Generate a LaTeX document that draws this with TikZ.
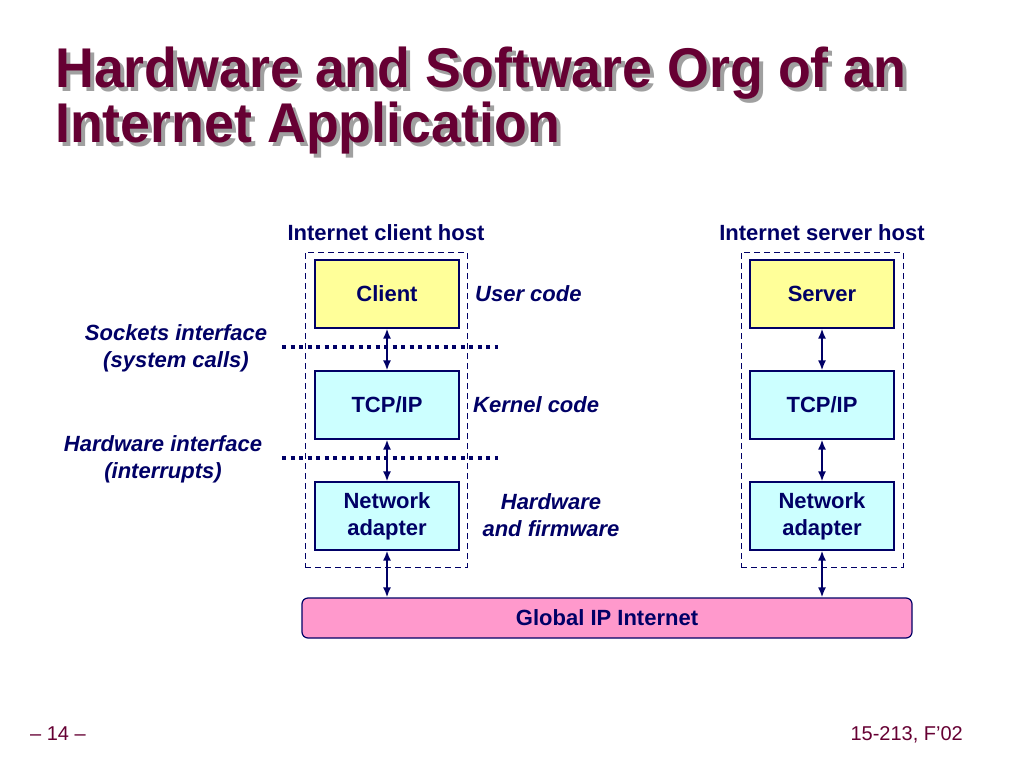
\documentclass[tikz,border=0pt]{standalone}
\usepackage{fontspec}
\setmainfont{Liberation Sans}
\newfontfamily\titlefont[FakeStretch=0.96]{Liberation Sans}
\usetikzlibrary{arrows.meta}
\definecolor{navy}{RGB}{0,0,102}
\definecolor{maroon}{RGB}{102,0,51}
\definecolor{shadowgray}{RGB}{160,160,160}
\definecolor{boxyellow}{RGB}{255,255,153}
\definecolor{boxcyan}{RGB}{204,255,255}
\definecolor{boxpink}{RGB}{255,153,204}
\newcommand{\shadowed}[1]{\makebox[0pt][l]{\hspace{4pt}\raisebox{-4pt}{\textcolor{shadowgray}{#1}}}\textcolor{maroon}{#1}}
\tikzset{
  layer/.style={draw=navy, line width=1.2pt, minimum width=144pt, minimum height=68pt,
    text=navy, font=\fontsize{22}{27}\selectfont\bfseries, align=center, inner sep=0pt},
  hostbox/.style={draw=navy, line width=1pt, dash pattern=on 6pt off 4pt,
    minimum width=162pt, minimum height=315pt, inner sep=0pt},
  hosttitle/.style={text=navy, font=\fontsize{22}{26}\selectfont\bfseries, inner sep=0pt},
  sidelabel/.style={text=navy, font=\fontsize{22}{27}\selectfont\bfseries\itshape, align=center, inner sep=0pt},
  link/.style={draw=navy, line width=1.8pt, {Latex[length=10pt,width=8pt]}-{Latex[length=10pt,width=8pt]}},
  dotline/.style={draw=navy, line width=4pt, dash pattern=on 4pt off 4.5pt},
  titletext/.style={font=\titlefont\fontsize{56}{60}\selectfont\bfseries, inner sep=0pt, anchor=base west},
  footer/.style={text=maroon, font=\fontsize{20}{24}\selectfont, inner sep=0pt, anchor=base west}
}
\begin{document}
\begin{tikzpicture}[x=1pt,y=-1pt]
\useasboundingbox[fill=white] (0,0) rectangle (1024,768);
% title
\node[titletext] (t1) at (55,87) {\shadowed{Hardware and Software Org of an}};
\node[titletext] (t2) at (55,142) {\shadowed{Internet Application}};
% hosts
\node[hostbox] (chost) at (386,409.5) {};
\node[hostbox] (shost) at (822,409.5) {};
\node[hosttitle] (chostlbl) at (386,233) {Internet client host};
\node[hosttitle] (shostlbl) at (822,233) {Internet server host};
% layers
\node[layer, fill=boxyellow] (client) at (387,294) {Client};
\node[layer, fill=boxcyan] (ctcp) at (387,405) {TCP/IP};
\node[layer, fill=boxcyan] (cna) at (387,516) {Network\\adapter};
\node[layer, fill=boxyellow] (server) at (822,294) {Server};
\node[layer, fill=boxcyan] (stcp) at (822,405) {TCP/IP};
\node[layer, fill=boxcyan] (sna) at (822,516) {Network\\adapter};
\node[layer, fill=boxpink, rounded corners=6pt, minimum width=610pt, minimum height=40pt] (inet) at (607,618) {Global IP Internet};
% links
\draw[link] (client.south) -- (ctcp.north);
\draw[link] (ctcp.south) -- (cna.north);
\draw[link] (cna.south) -- (cna.south |- inet.north);
\draw[link] (server.south) -- (stcp.north);
\draw[link] (stcp.south) -- (sna.north);
\draw[link] (sna.south) -- (sna.south |- inet.north);
% dotted interface lines
\coordinate (d1l) at (282,347);
\coordinate (d1r) at (498,347);
\coordinate (d2l) at (282,458);
\coordinate (d2r) at (498,458);
\draw[dotline] (d1l) -- (d1r);
\draw[dotline] (d2l) -- (d2r);
% side labels
\node[sidelabel] (sock) at (176,348) {Sockets interface\\(system calls)};
\node[sidelabel] (hwif) at (163,459) {Hardware interface\\(interrupts)};
\node[sidelabel, anchor=west] (ucode) at (475,294) {User code};
\node[sidelabel, anchor=west] (kcode) at (473,405) {Kernel code};
\node[sidelabel] (hwfw) at (551,515) {Hardware\\and firmware};
% footer
\node[footer] (pg) at (30,740) {– 14 –};
\node[footer, anchor=base east] (course) at (963,740) {15-213, F’02};
\end{tikzpicture}
\end{document}
